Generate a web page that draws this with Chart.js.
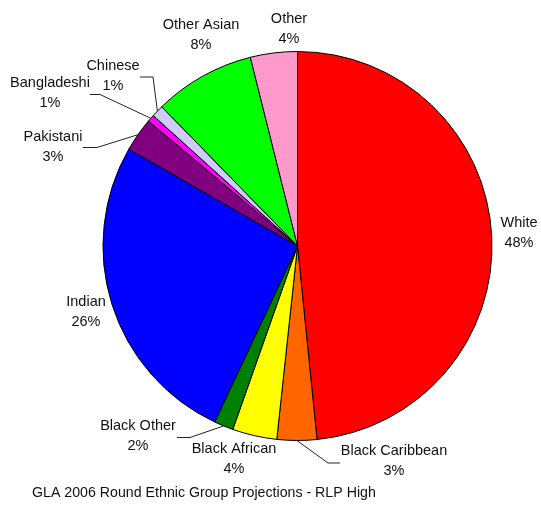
<!DOCTYPE html>
<html>
<head>
<meta charset="utf-8">
<script src="https://cdn.jsdelivr.net/npm/chart.js@4/dist/chart.umd.min.js"></script>
<style>
    body { margin: 0; background: #fff; }
    canvas { display: block; }
</style>
</head>
<body>
<canvas id="graficaEtnias" width="541" height="507"></canvas>
<script>
// Grupos etnicos (porcentaje de poblacion)
const grupos = ["White", "Black Caribbean", "Black African", "Black Other", "Indian",
    "Pakistani", "Bangladeshi", "Chinese", "Other Asian", "Other"];
const porcentajes = [48.4, 3.3, 3.7, 1.6, 26.3, 2.8, 0.6, 1.0, 8.4, 3.9];
const colores = ["#FF0000", "#FF6600", "#FFFF00", "#008000", "#0000FF",
    "#800080", "#FF00FF", "#CCCCFF", "#00FF00", "#FF99CC"];
const pieDeGrafica = "GLA 2006 Round Ethnic Group Projections - RLP High";

// Posicion del texto de cada etiqueta y, si lleva, el codo de la linea guia
const etiquetas = [
    { x: 519, y: 223 },
    { x: 394, y: 451, codo: [[328, 463], [340, 463]] },
    { x: 234, y: 449 },
    { x: 138, y: 426, codo: [[190, 437.5], [177, 437.5]] },
    { x: 86, y: 302 },
    { x: 53, y: 137, codo: [[97, 147.5], [83, 147.5]] },
    { x: 50, y: 83, codo: [[100, 94.5], [90, 94.5]] },
    { x: 113, y: 66, codo: [[153, 77], [140, 77]] },
    { x: 201, y: 25 },
    { x: 289, y: 19 },
];

const total = porcentajes.reduce((a, b) => a + b, 0);

// Dibuja las etiquetas, las lineas guia y el pie de la grafica
const etiquetasPlugin = {
    id: "etiquetas",
    afterDraw(chart) {
        const ctx = chart.ctx;
        const arcos = chart.getDatasetMeta(0).data;
        ctx.save();
        ctx.strokeStyle = "#222";
        ctx.lineWidth = 1;
        arcos.forEach((arco, i) => {
            const et = etiquetas[i];
            if (et.codo) {
                const medio = (arco.startAngle + arco.endAngle) / 2;
                const px = arco.x + Math.cos(medio) * arco.outerRadius;
                const py = arco.y + Math.sin(medio) * arco.outerRadius;
                ctx.beginPath();
                ctx.moveTo(px, py);
                et.codo.forEach(p => ctx.lineTo(p[0], p[1]));
                ctx.stroke();
            }
        });
        ctx.fillStyle = "#111";
        ctx.font = "14.5px 'Liberation Sans', Arial, sans-serif";
        ctx.textAlign = "center";
        ctx.textBaseline = "middle";
        arcos.forEach((arco, i) => {
            const et = etiquetas[i];
            const pct = Math.round(porcentajes[i] / total * 100) + "%";
            ctx.fillText(grupos[i], et.x, et.y);
            ctx.fillText(pct, et.x, et.y + 20);
        });
        ctx.font = "14.2px 'Liberation Sans', Arial, sans-serif";
        ctx.textAlign = "left";
        ctx.fillText(pieDeGrafica, 32, 493);
        ctx.restore();
    }
};

new Chart(document.getElementById("graficaEtnias"), {
    type: "pie",
    data: {
        labels: grupos,
        datasets: [{
            data: porcentajes,
            backgroundColor: colores,
            borderColor: "#000",
            borderWidth: 1,
        }],
    },
    options: {
        responsive: false,
        animation: false,
        layout: { padding: { left: 102, right: 48, top: 51, bottom: 66 } },
        plugins: {
            legend: { display: false },
            tooltip: { enabled: false },
        },
    },
    plugins: [etiquetasPlugin],
});
</script>
</body>
</html>
